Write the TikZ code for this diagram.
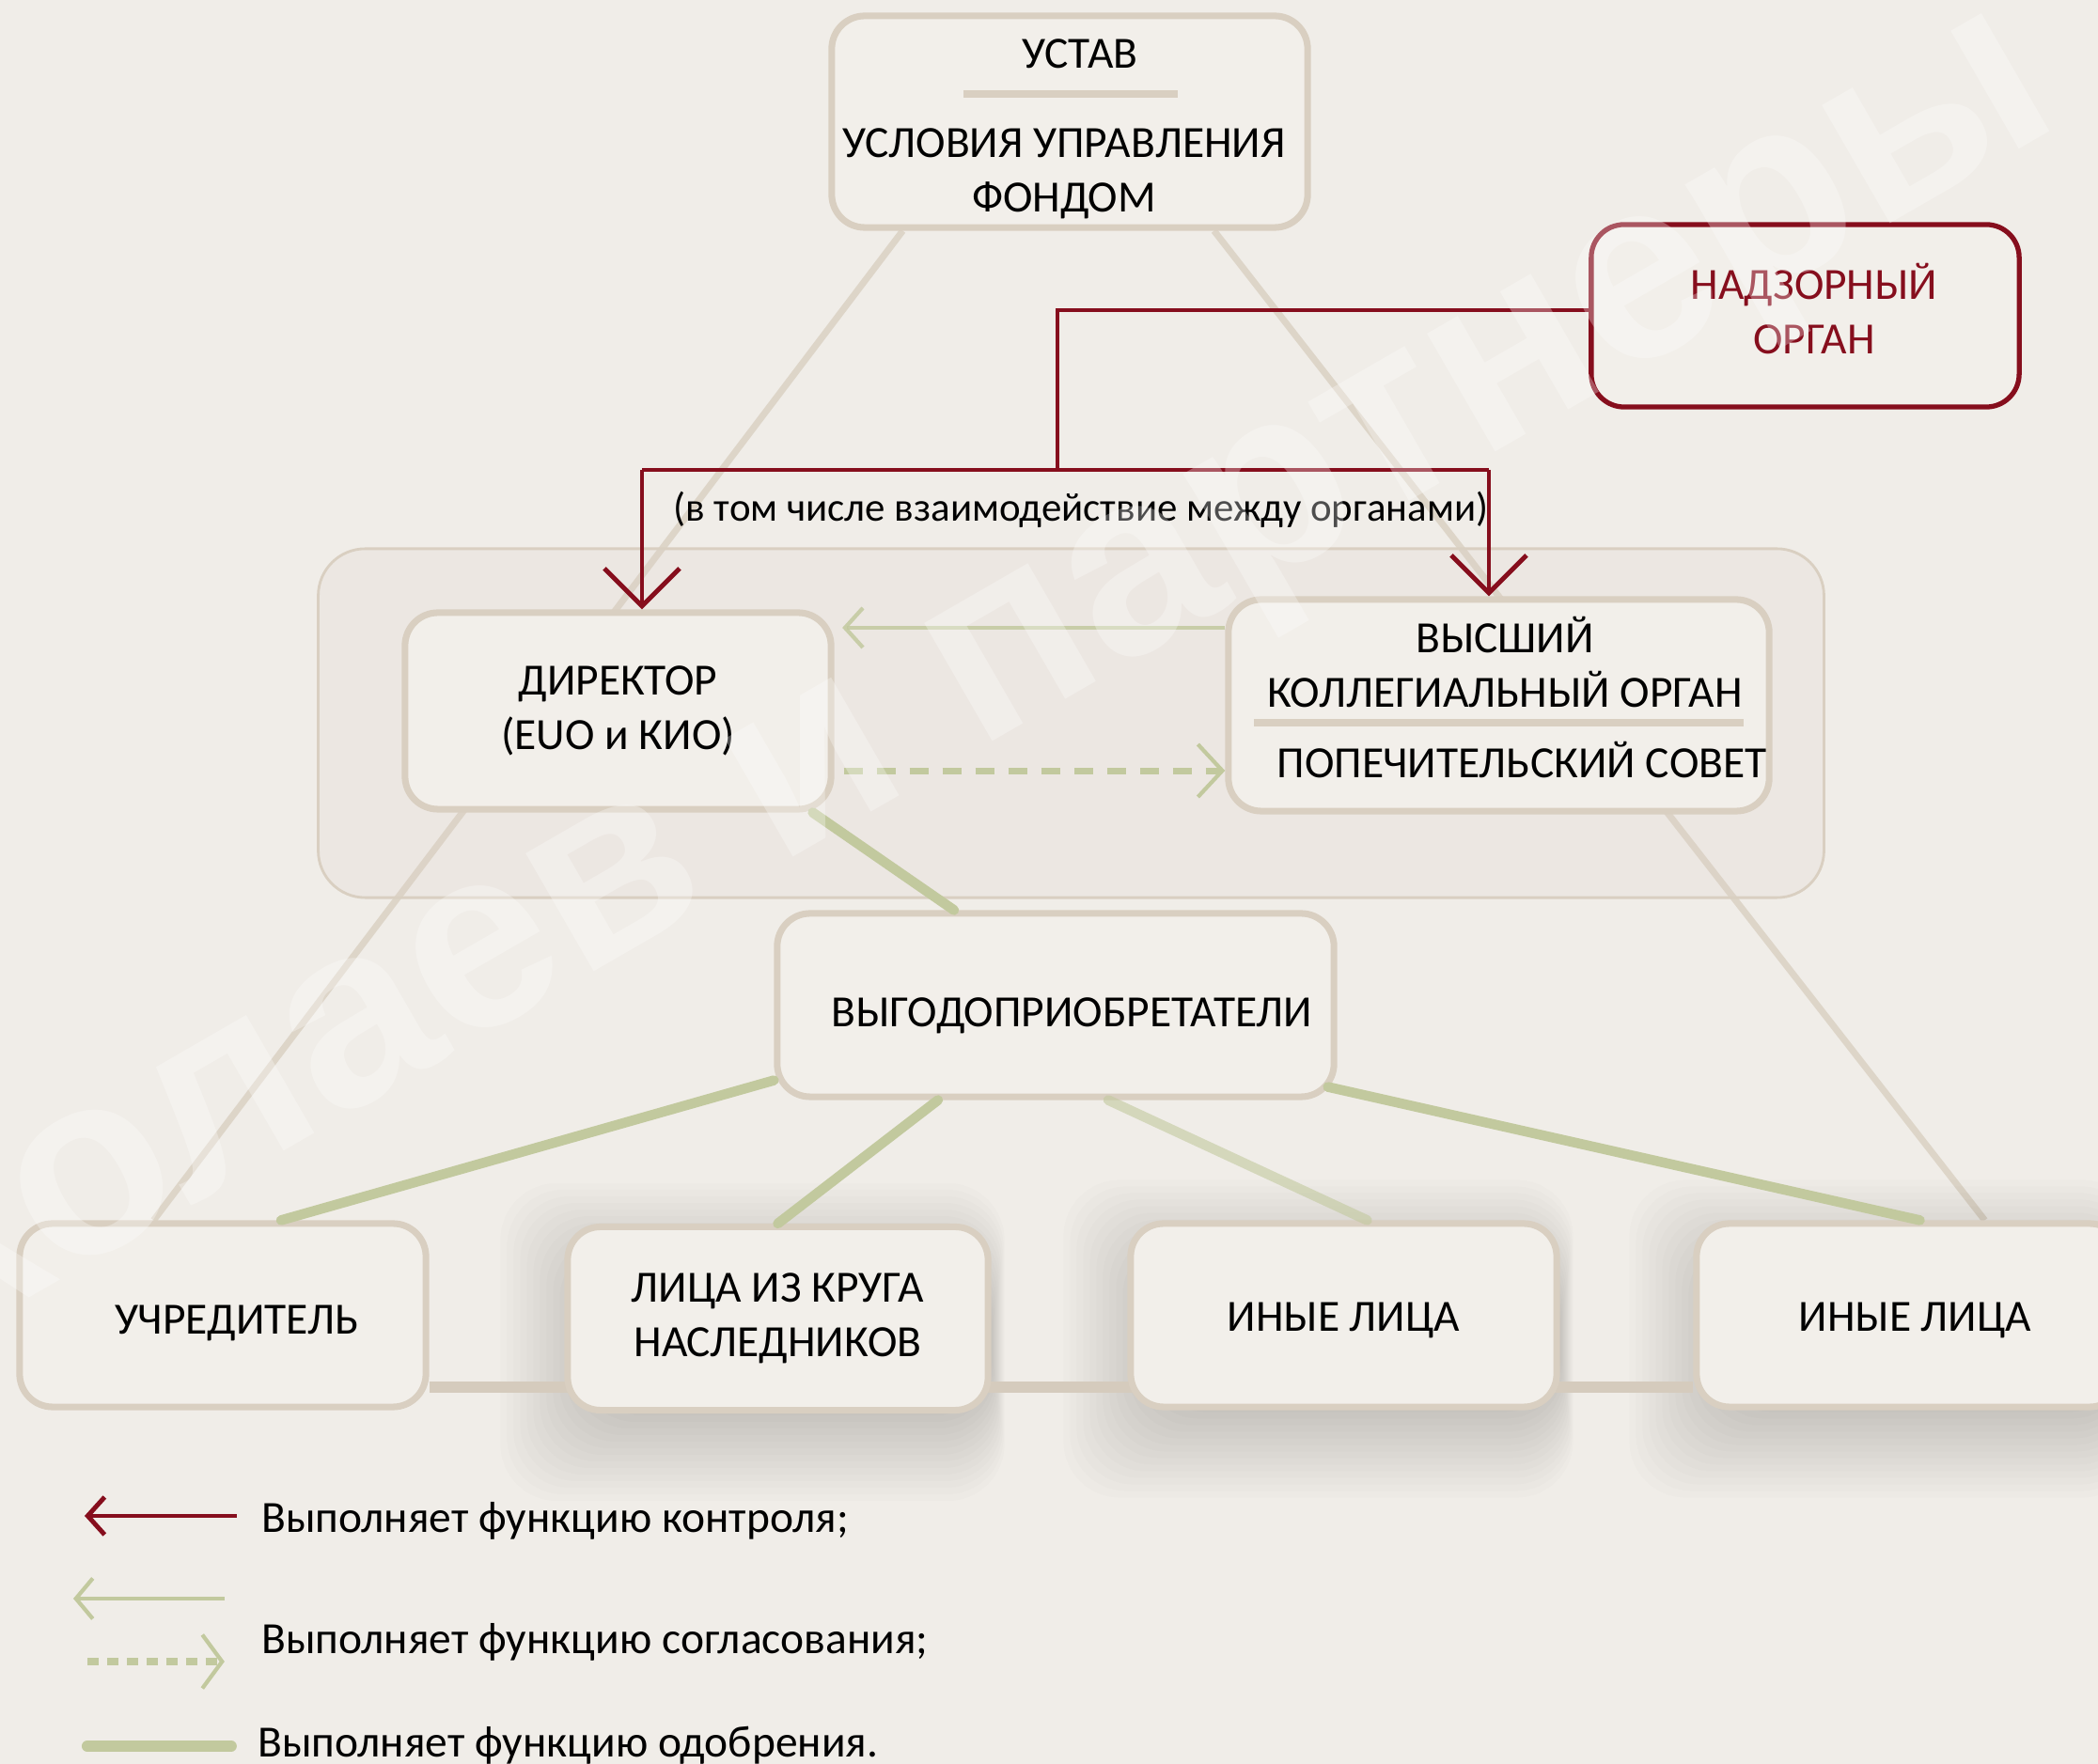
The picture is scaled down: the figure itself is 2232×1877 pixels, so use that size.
\documentclass[tikz,border=0pt]{standalone}
\usepackage{fontspec}
\setmainfont{Carlito}
\newfontfamily\wmfont{Liberation Sans}
\usetikzlibrary{arrows.meta}

\definecolor{paper}{HTML}{F0EDE8}
\definecolor{boxfill}{HTML}{F2EFEA}
\definecolor{beige}{HTML}{D9CFC1}
\definecolor{wine}{HTML}{860E1D}
\definecolor{olive}{HTML}{C2C99E}
\definecolor{panelfill}{HTML}{ECE7E2}

\pgfdeclarelayer{back}
\pgfsetlayers{back,main}

\tikzstyle{txt}=[align=center, font=\fontsize{13.5}{16.5}\selectfont]
\tikzstyle{org}=[txt, draw=beige, line width=2pt, fill=boxfill, rounded corners=0.35cm]
\tikzstyle{person}=[org, minimum height=1.95cm]
\tikzstyle{control}=[wine, line width=1.4pt]
\tikzstyle{agree}=[olive, line width=1.2pt]
\tikzstyle{approve}=[olive, line width=3pt, line cap=round]
\tikzstyle{frame}=[beige, line width=2pt, opacity=0.8]

\begin{document}
\begin{tikzpicture}[x=0.01cm, y=-0.01cm]
  \useasboundingbox (0,0) rectangle (2232,1877);

  % charter
  \node[org, minimum width=5.06cm, minimum height=2.25cm] (ustav) at (1138,129.5) {};
  \node[txt] (ustavt) at (1149,57) {УСТАВ};
  \draw[beige, line width=2.2pt] (1025,100) -- (1253,100);
  \node[txt] (uslov) at (1132,185) {УСЛОВИЯ УПРАВЛЕНИЯ\\ФОНДОМ};

  \node[org, draw=wine, line width=1.5pt, minimum width=4.55cm, minimum height=1.94cm] (nadzor) at (1920.5,336) {};
  \node[txt, text=wine] (nadzort) at (1930,329) {НАДЗОРНЫЙ\\ОРГАН};

  % organs
  \node[org, minimum width=4.53cm, minimum height=2.09cm] (dir) at (657.5,756.5) {ДИРЕКТОР\\(EUO и КИО)};
  \node[org, minimum width=5.75cm, minimum height=2.25cm] (vys) at (1594.5,750.5) {};
  \node[txt] (vyst) at (1601,705) {ВЫСШИЙ\\КОЛЛЕГИАЛЬНЫЙ ОРГАН};
  \draw[beige, line width=2.2pt] (1334,769) -- (1855,769);
  \node[txt] (popech) at (1619,809) {ПОПЕЧИТЕЛЬСКИЙ СОВЕТ};

  \node[org, text height=13.1pt, text depth=0pt, minimum width=5.92cm, minimum height=1.95cm] (vyg) at (1123,1069.5) {\hspace*{0.35cm}ВЫГОДОПРИОБРЕТАТЕЛИ};

  % beneficiaries
  \node[person, text height=11.5pt, text depth=0pt, minimum width=4.32cm] (uchr) at (237,1399.5) {\hspace*{0.3cm}УЧРЕДИТЕЛЬ};
  \node[person, minimum width=4.47cm] (krug) at (827.5,1403) {ЛИЦА ИЗ КРУГА\\НАСЛЕДНИКОВ};
  \node[person, text height=9.5pt, text depth=0pt, minimum width=4.53cm] (inye1) at (1429.5,1399.5) {ИНЫЕ ЛИЦА};
  \node[person, text height=9.5pt, text depth=0pt, minimum width=4.53cm] (inye2) at (2031.5,1399.5) {\hspace*{0.12cm}ИНЫЕ ЛИЦА};

  \begin{pgfonlayer}{back}
    \fill[paper] (0,0) rectangle (2232,1877);
    \node[draw=beige, line width=0.8pt, fill=panelfill, rounded corners=0.5cm, minimum width=16.01cm, minimum height=3.71cm] (panel) at (1139.5,769.5) {};
    \draw[frame] ([xshift=7.9mm]ustav.south west) -- ([xshift=14.6mm]uchr.north west);
    \draw[frame] ([xshift=-10.3mm]ustav.south east) -- ([xshift=8mm]inye2.north);
    % soft shadows
    \foreach \n in {krug,inye1,inye2}
      \foreach \k [evaluate=\k as \s using 7*\k-30, evaluate=\k as \m using 30-7*\k,
                   evaluate=\k as \lo using 7*\k-5, evaluate=\k as \hi using 55-7*\k] in {0,...,14}
        \fill[black, opacity=0.012, rounded corners=0.6cm] ([shift={(\m,\lo)}]\n.south west) rectangle ([shift={(\s,\hi)}]\n.north east);
    \draw[beige!90!black!20!beige, line width=3.4pt] ([yshift=-7.6mm]uchr.east) -- ([yshift=-7.6mm]inye2.west);
  \end{pgfonlayer}

  % control
  \coordinate (fork) at (1125,500);
  \coordinate (forkL) at (683,500);
  \coordinate (forkR) at (1584,500);
  \draw[control] ([yshift=0.6mm]nadzor.west) -| (fork);
  \draw[control] (forkL) -- (forkR);
  \draw[control, -{Straight Barb[length=4mm, width=8mm]}] (forkL) -- (forkL |- dir.north);
  \draw[control, -{Straight Barb[length=4mm, width=8mm]}] (forkR) -- (forkR |- vys.north);
  \node[font=\fontsize{12.2}{15}\selectfont] (incl) at (1150,542) {(в том числе взаимодействие между органами)};

  % agreement
  \draw[agree, opacity=0.85, shorten >=0.85mm, -{Straight Barb[length=1.9mm, width=4.2mm]}] ([yshift=8.25mm]vys.west) coordinate (g) -- (g -| dir.east);
  \draw[agree, line width=2pt, dash pattern=on 0.2cm off 0.15cm, -{Straight Barb[length=2.6mm, width=5.6mm, line width=1.2pt]}] ([xshift=1mm, yshift=-6.35mm]dir.east) coordinate (d) -- (d -| vys.west);

  % approval
  \draw[approve] ([xshift=-2.3mm]dir.south east) -- ([xshift=-10.8mm]vyg.north);
  \draw[approve] ([yshift=2.1mm]vyg.south west) -- ([xshift=6.2mm]uchr.north);
  \draw[approve] ([xshift=-12.5mm]vyg.south) -- (krug.north);
  \draw[approve, opacity=0.6] ([xshift=5.6mm]vyg.south) -- ([xshift=2.5mm]inye1.north);
  \draw[approve] ([xshift=-1mm, yshift=1.4mm]vyg.south east) -- ([xshift=1.1mm]inye2.north);

  % legend
  \node[txt, anchor=west] (lctrl) at (266,1618) {Выполняет функцию контроля;};
  \node[txt, anchor=west] (lagree) at (266,1747) {Выполняет функцию согласования;};
  \node[txt, anchor=west] (lappr) at (262,1857) {Выполняет функцию одобрения.};
  \draw[control, -{Straight Barb[length=1.8mm, width=4mm]}] ([xshift=-1.4mm, yshift=0.5mm]lctrl.west) -- ++(-162,0);
  \draw[agree, -{Straight Barb[length=1.8mm, width=4.3mm]}] ([xshift=-2.7mm, yshift=4.6mm]lagree.west) -- ++(-161,0);
  \draw[agree, line width=2.2pt, dash pattern=on 0.12cm off 0.09cm, -{Straight Barb[length=2.1mm, width=5.7mm, line width=1.2pt]}] ([xshift=-17.3mm, yshift=-2.1mm]lagree.west) -- ++(146,0);
  \draw[approve, line width=3.4pt] ([xshift=-16.9mm, yshift=-0.1mm]lappr.west) -- ++(153,0);

  % watermark
  \node[rotate=30, text=white, opacity=0.3, font=\wmfont\bfseries\fontsize{78}{78}\selectfont] (wm) at (880,815) {Николаев и партнеры};
\end{tikzpicture}
\end{document}
